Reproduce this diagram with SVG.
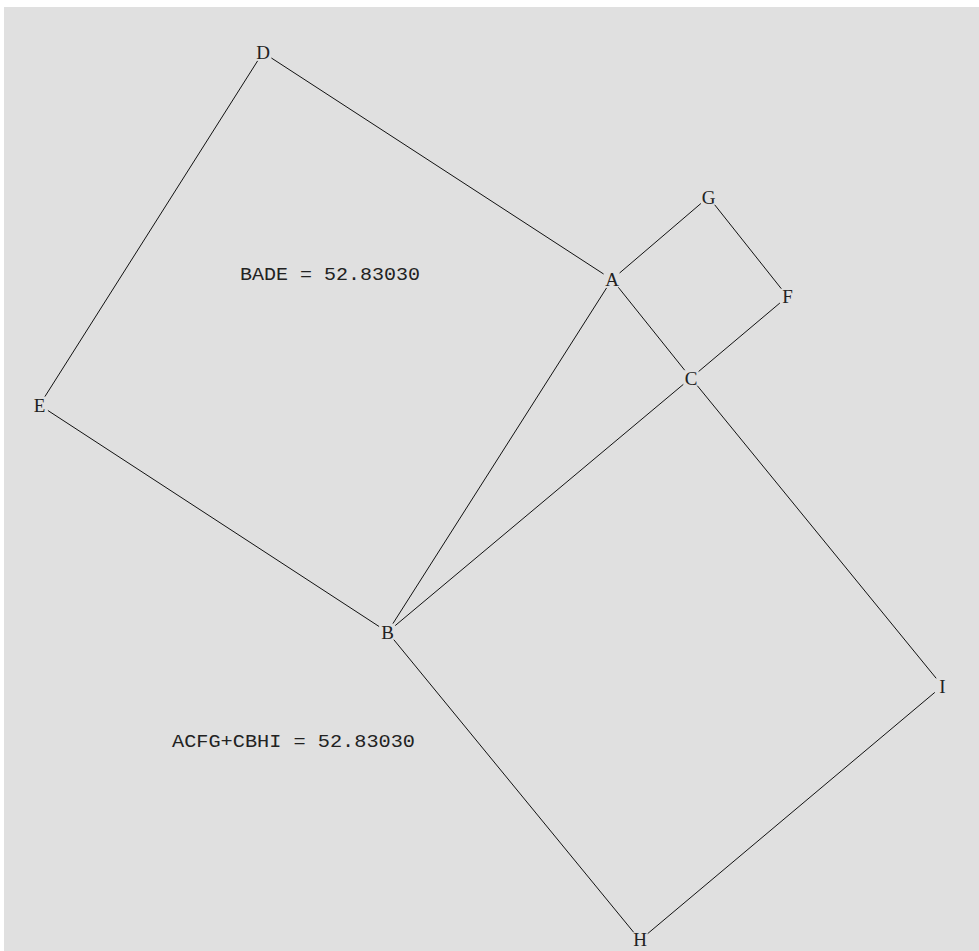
<svg xmlns="http://www.w3.org/2000/svg" width="979" height="951" viewBox="0 0 979 951">
<style>
.bg{fill:#e0e0e0}
.edge{stroke:#111;stroke-width:1;fill:none}
.lbl{font-family:"Liberation Serif","DejaVu Serif",serif;font-size:19px;fill:#222;text-anchor:middle}
.note{font-family:"Liberation Mono","DejaVu Sans Mono",monospace;font-size:19px;fill:#222}
</style>
<rect x="0" y="0" width="979" height="951" fill="#ffffff"/>
<rect class="bg" x="4" y="7" width="975" height="944"/>
<g id="connectors">
<line class="edge" x1="271.4" y1="58" x2="603.6" y2="274"/>
<line class="edge" x1="606.6" y1="287.9" x2="392.9" y2="623.6"/>
<line class="edge" x1="379.1" y1="626.5" x2="47.9" y2="410.5"/>
<line class="edge" x1="44.9" y1="396.6" x2="257.6" y2="60.9"/>
<line class="edge" x1="619.6" y1="273" x2="700.9" y2="203.5"/>
<line class="edge" x1="714.7" y1="204.8" x2="781.3" y2="288.7"/>
<line class="edge" x1="779.9" y1="303" x2="698.6" y2="371.5"/>
<line class="edge" x1="684.7" y1="370.2" x2="618.3" y2="287.3"/>
<line class="edge" x1="683.3" y1="384.4" x2="395.2" y2="625.6"/>
<line class="edge" x1="393.8" y1="639.7" x2="633.7" y2="932.3"/>
<line class="edge" x1="647.7" y1="933.6" x2="934.8" y2="692.4"/>
<line class="edge" x1="936.2" y1="678.3" x2="697.3" y2="385.7"/>
</g>
<g id="node-D"><text class="lbl" x="263" y="59">D</text></g>
<g id="node-A"><text class="lbl" x="612" y="286">A</text></g>
<g id="node-E"><text class="lbl" x="39.5" y="412">E</text></g>
<g id="node-B"><text class="lbl" x="387.5" y="639">B</text></g>
<g id="node-C"><text class="lbl" x="691" y="385">C</text></g>
<g id="node-G"><text class="lbl" x="708.5" y="204">G</text></g>
<g id="node-F"><text class="lbl" x="787.5" y="303">F</text></g>
<g id="node-I"><text class="lbl" x="942.5" y="693">I</text></g>
<g id="node-H"><text class="lbl" x="640" y="946">H</text></g>
<g id="label-bade"><text class="note" x="240" y="280" textLength="180" lengthAdjust="spacingAndGlyphs">BADE = 52.83030</text></g>
<g id="label-sum"><text class="note" x="172" y="747" textLength="243" lengthAdjust="spacingAndGlyphs">ACFG+CBHI = 52.83030</text></g>
</svg>
